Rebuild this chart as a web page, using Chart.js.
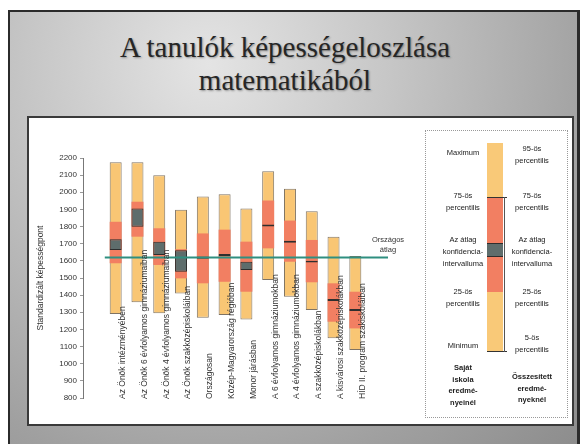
<!DOCTYPE html>
<html>
<head>
<meta charset="utf-8">
<script src="https://cdn.jsdelivr.net/npm/chart.js@4.4.1/dist/chart.umd.min.js"></script>
<style>
  body { margin: 0; width: 584px; height: 444px; background: #fff; position: relative; overflow: hidden; font-family: 'Liberation Sans', Arial, sans-serif; }
  .slide { position: absolute; left: 8px; top: 10px; width: 567px; height: 440px;
    border-left: 2px solid #2b2b2b; border-top: 2px solid #2b2b2b; border-right: 3px solid #2b2b2b;
    background: radial-gradient(ellipse at 35% 12%, #e4e4e4 0%, #c6c6c6 35%, #a0a0a0 75%, #8c8c8c 100%); }
  .title { position: absolute; left: 38px; width: 494px; text-align: center; font-family: 'Liberation Serif', serif;
    font-size: 29px; color: #262626; text-shadow: 1px 1px 2px rgba(0,0,0,0.35); line-height: 32px; }
  .panel { position: absolute; left: 27px; top: 116px; width: 543px; height: 306px; background: #fff; border: 2px solid #3a3a3a; }
  #chartBox { position: absolute; left: 28px; top: 117px; width: 395px; height: 306px; }
  .legendBox { position: absolute; left: 425px; top: 130px; width: 141px; height: 286px; border: 1px dotted #999; }
  .lt { position: absolute; width: 74px; text-align: center; font-size: 7.5px; line-height: 12px; color: #1a1a1a; will-change: transform; }
  .lt.b { font-weight: bold; line-height: 11.5px; }
  .seg { position: absolute; left: 487px; width: 16px; }
</style>
</head>
<body>
<div class="slide"></div>
<div class="title" style="top:31px;">A tanulók képességeloszlása</div>
<div class="title" style="top:64px;">matematikából</div>
<div class="panel"></div>
<div id="chartBox"><canvas id="myChart" width="395" height="306"></canvas></div>

<div class="legendBox"></div>
<div class="seg" style="top:143px;height:209px;background:#f9c978;"></div>
<div class="seg" style="top:197px;height:95px;background:#f27f62;"></div>
<div class="seg" style="top:243px;height:14px;background:#5e6d6c;border-top:1px solid #2e2e2e;border-bottom:1px solid #2e2e2e;box-sizing:border-box;"></div>
<div style="position:absolute;left:487px;top:197px;width:20px;height:1px;background:#333;"></div>
<div style="position:absolute;left:487px;top:351px;width:20px;height:1px;background:#333;"></div>
<div style="position:absolute;left:504px;top:197px;width:1px;height:155px;background:#555;"></div>

<div class="lt" style="left:426px;top:147px;">Maximum</div>
<div class="lt" style="left:426px;top:190px;">75-ös<br>percentilis</div>
<div class="lt" style="left:426px;top:234px;">Az átlag<br>konfidencia-<br>intervalluma</div>
<div class="lt" style="left:426px;top:286px;">25-ös<br>percentilis</div>
<div class="lt" style="left:426px;top:340px;">Minimum</div>
<div class="lt b" style="left:426px;top:362px;">Saját<br>iskola<br>eredmé-<br>nyeinél</div>

<div class="lt" style="left:495px;top:143px;">95-ös<br>percentilis</div>
<div class="lt" style="left:495px;top:190px;">75-ös<br>percentilis</div>
<div class="lt" style="left:495px;top:234px;">Az átlag<br>konfidencia-<br>intervalluma</div>
<div class="lt" style="left:495px;top:286px;">25-ös<br>percentilis</div>
<div class="lt" style="left:495px;top:332px;">5-ös<br>percentilis</div>
<div class="lt b" style="left:495px;top:371px;">Összesített<br>eredmé-<br>nyeknél</div>

<script>
// categories, left to right
const categories = [
    'Az Önök intézményében',
    'Az Önök 6 évfolyamos gimnáziumaiban',
    'Az Önök 4 évfolyamos gimnáziumaiban',
    'Az Önök szakközépiskoláiban',
    'Országosan',
    'Közép-Magyarország régióban',
    'Monor járásban',
    'A 6 évfolyamos gimnáziumokban',
    'A 4 évfolyamos gimnáziumokban',
    'A szakközépiskolákban',
    'A kisvárosi szakközépiskolákban',
    'HÍD II. program szakiskoláiban'
];

// min / 5th, 25th, CI low, CI high, 75th, max / 95th
const minValues = [1290, 1358, 1294, 1410, 1268, 1284, 1258, 1488, 1391, 1313, 1148, 1080];
const p25Values = [1586, 1741, 1576, 1498, 1469, 1478, 1420, 1673, 1595, 1475, 1245, 1206];
const ciLow     = [1663, 1799, 1634, 1537, 1612, 1628, 1547, 1800, 1706, 1590, 1366, 1307];
const ciHigh    = [1726, 1906, 1712, 1662, 1626, 1640, 1595, 1812, 1718, 1601, 1378, 1319];
const p75Values = [1828, 1945, 1790, 1668, 1760, 1782, 1712, 1952, 1835, 1722, 1469, 1420];
const maxValues = [2175, 2175, 2100, 1898, 1975, 1988, 1906, 2122, 2021, 1889, 1741, 1628];

const nationalAverage = 1620;

// y axis ticks
const axisMin = 800;
const axisMax = 2200;
const axisStep = 100;

Chart.defaults.font.family = "'Liberation Sans', Arial, sans-serif";
Chart.defaults.color = '#333';

// one empty slot on each side of the bars
const labels = ['', ...categories, ''];
function ranges(lo, hi) {
    return [null, ...lo.map((v, i) => [v, hi[i]]), null];
}

// national average line + rotated category labels inside the plot
const overlayPlugin = {
    id: 'overlay',
    afterDatasetsDraw(chart) {
        const { ctx, chartArea, scales: { x, y } } = chart;
        const ly = y.getPixelForValue(nationalAverage);
        const x0 = x.getPixelForValue(0.5);
        const x1 = chartArea.right;
        ctx.save();
        ctx.strokeStyle = '#2f8f80';
        ctx.lineWidth = 2;
        ctx.beginPath();
        ctx.moveTo(x0, ly);
        ctx.lineTo(x1, ly);
        ctx.stroke();

        ctx.fillStyle = '#333';
        ctx.font = "7.5px 'Liberation Sans'";
        ctx.textAlign = 'center';
        ctx.textBaseline = 'middle';
        ctx.fillText('Országos', x1, ly - 17);
        ctx.fillText('átlag', x1, ly - 7);

        ctx.font = "8.5px 'Liberation Sans'";
        ctx.textAlign = 'left';
        const by = y.getPixelForValue(axisMin) + 1;
        categories.forEach((c, i) => {
            const px = x.getPixelForValue(i + 1) + 7;
            ctx.save();
            ctx.translate(px, by);
            ctx.rotate(-Math.PI / 2);
            ctx.fillText(c, 0, 0);
            ctx.restore();
        });
        ctx.restore();
    }
};

const ctx = document.getElementById('myChart').getContext('2d');
new Chart(ctx, {
    type: 'bar',
    data: {
        labels: labels,
        datasets: [
            {
                label: 'Tartomány',
                data: ranges(minValues, maxValues),
                backgroundColor: '#f9c674',
                borderColor: 'rgba(95, 80, 60, 0.8)',
                borderWidth: 1,
                borderSkipped: false,
                grouped: false,
                order: 3
            },
            {
                label: '25-75 percentilis',
                data: ranges(p25Values, p75Values),
                backgroundColor: '#f27f62',
                borderWidth: 0,
                grouped: false,
                order: 2
            },
            {
                label: 'Konfidencia-intervallum',
                data: ranges(ciLow, ciHigh),
                backgroundColor: '#5e6d6c',
                borderColor: '#2e2e2e',
                borderWidth: 1,
                borderSkipped: false,
                grouped: false,
                order: 1
            }
        ]
    },
    options: {
        responsive: false,
        animation: false,
        barPercentage: 0.55,
        categoryPercentage: 1,
        layout: { padding: { left: 8, top: 41, right: 35, bottom: 25 } },
        plugins: {
            legend: { display: false },
            tooltip: { enabled: false }
        },
        scales: {
            x: { display: false, offset: true },
            y: {
                min: axisMin,
                max: axisMax,
                ticks: {
                    stepSize: axisStep,
                    padding: 3,
                    color: '#333',
                    font: { size: 8 },
                    callback: v => String(v)
                },
                grid: { drawOnChartArea: false, tickLength: 3, color: '#999' },
                border: { display: true, dash: [1, 2], color: '#777' },
                title: {
                    display: true,
                    text: 'Standardizált képességpont',
                    color: '#333',
                    font: { size: 8.5 },
                    padding: 0
                },
                afterFit(scale) { scale.width = 47; }
            }
        }
    },
    plugins: [overlayPlugin]
});
</script>
</body>
</html>
